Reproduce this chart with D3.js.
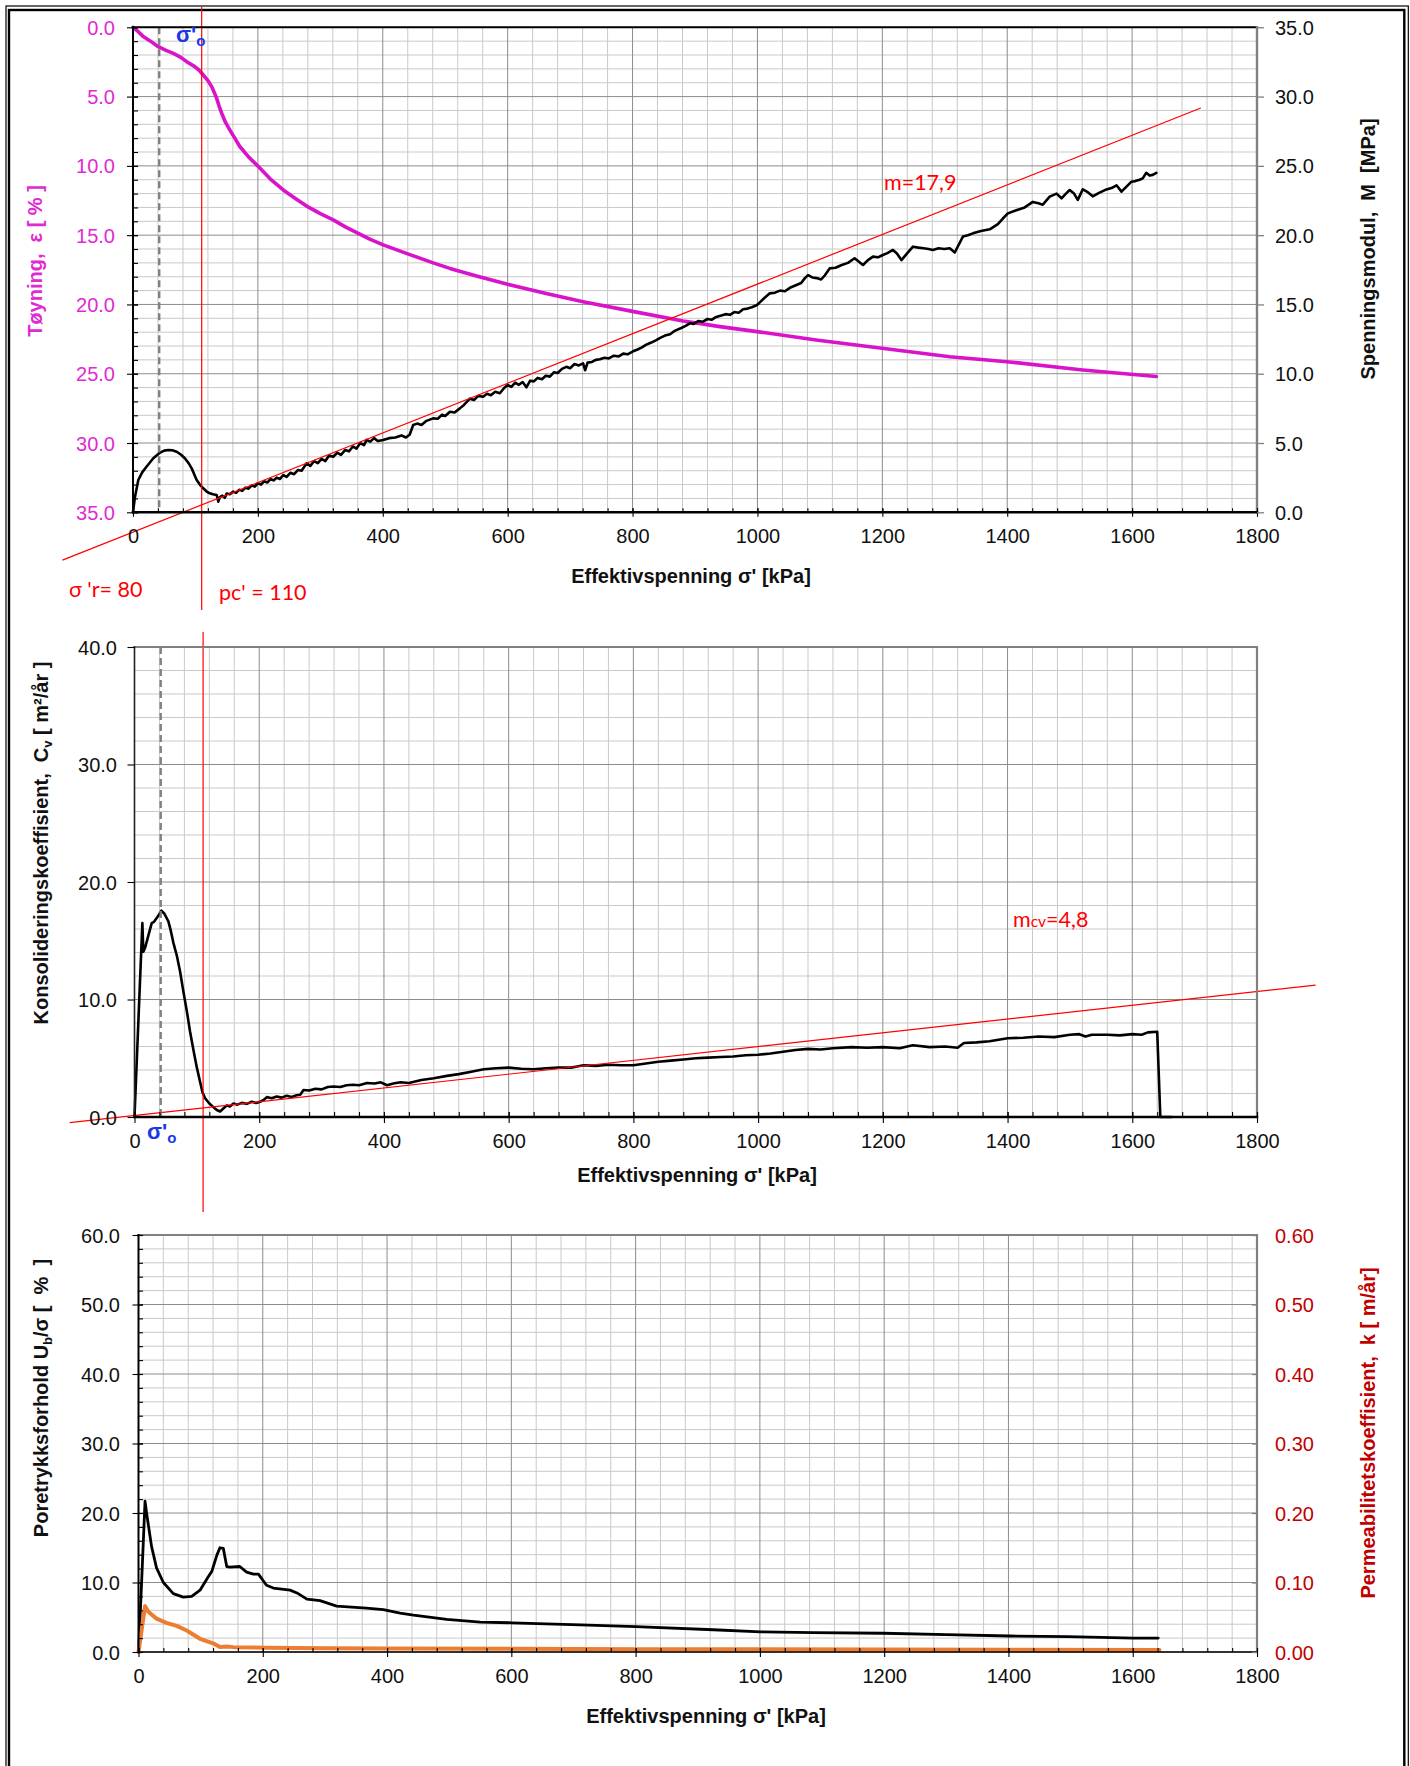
<!DOCTYPE html>
<html>
<head>
<meta charset="utf-8">
<script src="https://cdn.jsdelivr.net/npm/d3@7"></script>
<style>
  html, body { margin: 0; padding: 0; background: #fff; }
  svg { display: block; }
  text { white-space: pre; }
</style>
</head>
<body>
<svg id="chart" width="1410" height="1766"></svg>
<script>
// ---------- tick labels ----------
const xTicks = [0, 200, 400, 600, 800, 1000, 1200, 1400, 1600, 1800];
const strainTicks = [0, 5, 10, 15, 20, 25, 30, 35];
const modulusTicks = [0, 5, 10, 15, 20, 25, 30, 35];
const cvTicks = [0, 10, 20, 30, 40];
const poreTicks = [0, 10, 20, 30, 40, 50, 60];
const permTicks = [0, 0.1, 0.2, 0.3, 0.4, 0.5, 0.6];

// ---------- reference values ----------
const sigma0 = 42;          // in-situ effective stress σ'o [kPa]
const pcPrime = 110;        // preconsolidation stress pc' [kPa]
const sigmaR = 80;          // reference stress σ'r [kPa]
const modulusNumber = 17.9; // modulus number m
const cvNumber = 4.8;       // mcv
const modulusFitRange = [-113, 1710];
const cvTrend = [[-104, -0.48], [1894, 11.23]];

// ---------- series: [effective stress kPa, value] ----------
const strainCurve = [
  [0,0],[8,0.3],[16.5,0.67],[28,1.0],[40.5,1.4],[52,1.65],[64.5,1.88],[76,2.15],[86,2.48],[99,2.84],
  [106,3.1],[112.5,3.44],[120,3.85],[126,4.28],[131,4.8],[134,5.13],[138,5.7],[142,6.2],[148,6.85],
  [155,7.4],[163,8.0],[171,8.6],[185,9.35],[199.6,10.0],[220,10.95],[240.6,11.74],[260,12.35],
  [278,12.9],[300,13.45],[320.6,13.9],[340,14.4],[360.7,14.87],[380,15.3],[400.7,15.7],[440,16.35],
  [480.7,17.0],[507.5,17.4],[550,17.95],[599.8,18.55],[660,19.2],[720.8,19.8],[800,20.5],[881,21.2],
  [940,21.6],[999.4,21.96],[1094,22.56],[1199.5,23.16],[1308,23.77],[1399.6,24.13],[1521,24.73],[1638.8,25.2]
];

const modulusCurve = [
  [0,0],[3.2,1.13],[8.5,2.33],[15,2.9],[21.9,3.3],[32.5,3.9],[43,4.3],[50,4.45],[56.5,4.5],[63,4.48],
  [70,4.37],[77,4.15],[83,3.9],[89,3.55],[94,3.17],[98,2.75],[102,2.33],[107,2.0],[112.5,1.73],[118,1.5],
  [123,1.37],[128,1.3],[134,1.25],[136.6,0.77],[139,1.1],[143,1.2],[147,1.05],[150,1.35],[155,1.3],
  [160.6,1.49],[165,1.4],[170,1.62],[175,1.55],[180,1.78],[185,1.7],[190,1.95],[195,1.85],[199.6,2.09],
  [205,2.0],[210,2.25],[215,2.15],[220,2.4],[225,2.3],[230,2.5],[235,2.4],[240.6,2.69],[246,2.55],
  [252,2.85],[258,2.75],[264,3.05],[270,3.0],[278,3.54],[284,3.35],[290,3.7],[296,3.55],[302,3.85],
  [308,3.7],[314,4.1],[320.6,4.01],[327,4.3],[333,4.15],[340,4.5],[346,4.4],[352,4.75],[358,4.6],
  [364,5.0],[370,4.85],[374,5.22],[380,5.1],[386,5.35],[392,5.15],[400.7,5.22],[410,5.35],[420,5.4],
  [430,5.55],[437,5.4],[443,5.6],[448.7,6.3],[455,6.4],[462,6.3],[470,6.6],[480.7,6.78],[488,6.75],
  [495,7.05],[500,6.95],[507.5,7.26],[515,7.2],[523.4,7.5],[530,7.75],[539.5,8.2],[546,8.1],[553,8.4],
  [560.7,8.34],[567,8.55],[573,8.45],[580,8.7],[587.5,8.59],[594,8.95],[599.8,9.19],[606,9.05],
  [612,9.35],[618,9.2],[624,9.4],[630,9.02],[636,9.5],[642,9.45],[648,9.7],[655,9.6],[661,9.85],
  [667.5,9.79],[674,10.1],[680,10.05],[687,10.35],[694,10.5],[700,10.4],[707,10.7],[714,10.6],
  [720.8,10.75],[724,10.25],[728,10.8],[735,10.85],[741,11.0],[747.6,11.04],[755,11.15],[762,11.1],
  [770,11.3],[778,11.25],[785,11.45],[792,11.4],[800,11.6],[808,11.75],[815,11.9],[822,12.1],
  [830,12.25],[838,12.43],[845,12.6],[852,12.75],[860,12.85],[866,13.05],[870,13.15],[878,13.3],
  [885,13.45],[891.6,13.64],[898,13.6],[905,13.8],[912,13.75],[920,13.95],[927,13.9],[934,14.1],
  [942,14.2],[949,14.3],[956,14.25],[963,14.45],[970,14.4],[977,14.65],[984,14.7],[991,14.8],
  [999.4,14.96],[1005,15.2],[1012,15.5],[1019.8,15.8],[1028,15.85],[1036,16.0],[1044,15.95],
  [1052,16.2],[1062.5,16.4],[1070,16.55],[1076,16.9],[1081,17.12],[1088,16.95],[1095,16.9],
  [1102,16.8],[1108,17.1],[1115.6,17.6],[1125,17.65],[1135,17.85],[1145,18.0],[1155.6,18.33],
  [1162,18.1],[1169,17.85],[1177,18.2],[1185,18.45],[1193,18.4],[1200,18.55],[1208,18.7],[1217,18.93],
  [1223,18.7],[1230.6,18.2],[1238,18.6],[1249,19.17],[1258,19.1],[1266,19.05],[1274,19.0],[1281,18.93],
  [1290,19.05],[1299,19.0],[1308,19.05],[1316,18.75],[1329,19.9],[1337,20.0],[1345,20.13],[1358,20.3],
  [1372,20.42],[1385,20.8],[1393,21.2],[1401,21.57],[1414.5,21.8],[1428,22.0],[1441,22.4],[1450,22.3],
  [1457,22.2],[1468,22.78],[1479,23.0],[1487,22.66],[1494,23.0],[1500,23.26],[1507,23.0],[1513,22.55],
  [1521,23.3],[1529,23.1],[1537,22.8],[1547,23.05],[1559,23.3],[1567,23.4],[1575,23.6],[1583,23.14],
  [1591,23.5],[1599,23.86],[1605,23.9],[1612,24.0],[1617,24.1],[1622.7,24.5],[1628,24.3],[1633,24.35],
  [1638.8,24.5]
];

const cvCurve = [
  [0,0],[12.6,16.5],[14.2,14.06],[17,14.4],[22.2,15.43],[27.6,16.5],[31,16.6],[35.6,16.94],[39,17.2],
  [43.1,17.56],[48,17.3],[54.3,16.65],[58,15.9],[62.4,14.82],[68,13.7],[73.1,12.39],[78,10.8],
  [83.8,9.05],[89,7.3],[94.5,5.7],[100,4.2],[105.2,2.98],[109,2.1],[113.2,1.6],[120,1.15],[126.6,0.84],
  [132,0.6],[137.3,0.47],[142,0.7],[148,0.99],[153,0.9],[158.7,1.14],[165,1.05],[172,1.2],[180,1.12],
  [188,1.3],[195,1.2],[201.5,1.29],[207,1.45],[212.2,1.69],[220,1.6],[228,1.75],[236,1.65],[244,1.8],
  [252,1.7],[260,1.85],[265.8,1.9],[271,2.3],[280,2.25],[290,2.4],[300,2.35],[310,2.55],[319,2.6],
  [330,2.55],[340,2.7],[350,2.75],[360,2.7],[373,2.9],[385,2.85],[395,2.95],[405,2.7],[415,2.85],
  [426.5,2.96],[440,2.9],[460,3.15],[480,3.3],[501,3.5],[520,3.65],[540,3.85],[560,4.06],[580,4.15],
  [600,4.2],[620,4.1],[640,4.06],[660,4.15],[680,4.2],[700,4.2],[710,4.3],[720,4.4],[740,4.35],
  [760,4.45],[780,4.4],[800,4.4],[820,4.55],[840,4.7],[860,4.8],[880,4.9],[900,5.0],[920,5.05],
  [940,5.1],[960,5.15],[980,5.25],[1000,5.3],[1020,5.4],[1040,5.55],[1060,5.7],[1080,5.8],[1100,5.75],
  [1120,5.85],[1150,5.95],[1175,5.9],[1200,5.95],[1227,5.85],[1248,6.1],[1275,5.95],[1300,6.0],
  [1320,5.9],[1330,6.3],[1350,6.35],[1371,6.45],[1400,6.7],[1425,6.75],[1450,6.85],[1475,6.8],
  [1500,7.0],[1515,7.05],[1525,6.85],[1535,7.0],[1560,7.0],[1580,6.95],[1600,7.05],[1615,7.0],
  [1625,7.2],[1640,7.25],[1645,0],[1663,0]
];

const poreRatioCurve = [
  [0,0],[5,10],[10.5,21.7],[13,20],[15.8,18.3],[21,15.2],[29,12.1],[40,10.0],[56,8.4],[72,7.9],
  [85.6,8.0],[99,8.9],[112,10.8],[118,11.6],[126,13.9],[131,15.0],[136.5,14.9],[142,12.3],[147,12.2],
  [163,12.3],[174,11.5],[185,11.2],[193,11.2],[206,9.6],[217,9.2],[244,8.9],[255,8.5],[271,7.6],
  [292,7.4],[319,6.6],[367,6.3],[394,6.1],[421,5.6],[442.5,5.3],[496,4.7],[550,4.3],[601,4.2],
  [711,3.9],[800,3.65],[925,3.2],[1001,2.9],[1086,2.8],[1199,2.7],[1300,2.5],[1402,2.3],[1495,2.2],
  [1602,2.0],[1641,2.0]
];

const permeabilityCurve = [
  [0,0],[10.5,0.066],[15.8,0.058],[29,0.048],[45,0.042],[61.5,0.0375],[77.6,0.031],[99,0.019],
  [120,0.0125],[131,0.0072],[142,0.008],[153,0.007],[206,0.0062],[300,0.0055],[400,0.005],
  [600,0.0045],[800,0.004],[1000,0.0038],[1200,0.0035],[1400,0.0032],[1643,0.003]
];

// ---------- drawing ----------
const svg = d3.select("#chart");
const FONT = "'Liberation Sans', Arial, Helvetica, sans-serif";
const NOTE_FONT = "Lato, 'Open Sans', sans-serif";
const MAGENTA = "#d913c9";
const MAGENTA_TXT = "#e02ad2";
const DARKRED = "#c00000";
const RED = "#ff0000";
const BLUE = "#1a37e8";
const ORANGE = "#ed7d31";
const GRID_MINOR = "#c9c9c9";
const GRID_MAJOR = "#8c8c8c";
const BORDER_GRAY = "#808080";
const comma = v => String(v).replace(".", ",");

// outer double frame
svg.append("rect").attr("x", 6).attr("y", 6).attr("width", 1402.3).attr("height", 1820)
  .attr("fill", "none").attr("stroke", "#000").attr("stroke-width", 1.2);
svg.append("rect").attr("x", 9).attr("y", 10).attr("width", 1395.3).attr("height", 1820)
  .attr("fill", "none").attr("stroke", "#000").attr("stroke-width", 2.4);

// scales
const x1 = d3.scaleLinear().domain([0, 1800]).range([133, 1257]);
const yStrain = d3.scaleLinear().domain([0, 35]).range([27.3, 512.3]);
const yModulus = d3.scaleLinear().domain([0, 35]).range([512.3, 27.3]);

const x2 = d3.scaleLinear().domain([0, 1800]).range([134.5, 1257]);
const yCv = d3.scaleLinear().domain([0, 40]).range([1117, 647]);

const x3 = d3.scaleLinear().domain([0, 1800]).range([138.5, 1257]);
const yPore = d3.scaleLinear().domain([0, 60]).range([1652, 1235]);
const yPerm = d3.scaleLinear().domain([0, 0.6]).range([1652, 1235]);

const xMinor = d3.range(0, 1801, 40);

function drawGrid(x, y, minorStep, majorStep) {
  const g = svg.append("g");
  const [d0, d1] = y.domain();
  const yA = Math.min(...y.range()), yB = Math.max(...y.range());
  const [xA, xB] = x.range();
  const yVals = d3.range(d0, d1 + 1e-9, minorStep);
  const isMajorY = v => Math.abs(v / majorStep - Math.round(v / majorStep)) < 1e-6;
  const isMajorX = v => v % 200 === 0;
  xMinor.filter(v => !isMajorX(v)).forEach(v =>
    g.append("line").attr("x1", x(v)).attr("x2", x(v)).attr("y1", yA).attr("y2", yB)
      .attr("stroke", GRID_MINOR).attr("stroke-width", 1));
  yVals.filter(v => !isMajorY(v)).forEach(v =>
    g.append("line").attr("x1", xA).attr("x2", xB).attr("y1", y(v)).attr("y2", y(v))
      .attr("stroke", GRID_MINOR).attr("stroke-width", 1));
  xMinor.filter(isMajorX).forEach(v =>
    g.append("line").attr("x1", x(v)).attr("x2", x(v)).attr("y1", yA).attr("y2", yB)
      .attr("stroke", GRID_MAJOR).attr("stroke-width", 1));
  yVals.filter(isMajorY).forEach(v =>
    g.append("line").attr("x1", xA).attr("x2", xB).attr("y1", y(v)).attr("y2", y(v))
      .attr("stroke", GRID_MAJOR).attr("stroke-width", 1));
}

function bottomAxis(x, yPos, inner, outer) {
  const gm = svg.append("g").attr("transform", `translate(0,${yPos})`)
    .call(d3.axisBottom(x).tickValues(xMinor).tickSizeInner(-inner).tickSizeOuter(0).tickFormat(""));
  gm.select(".domain").remove();
  gm.selectAll("line").attr("stroke", "#000").attr("stroke-width", 1.1);
  const g = svg.append("g").attr("transform", `translate(0,${yPos})`)
    .call(d3.axisBottom(x).tickValues(xTicks).tickSizeInner(outer).tickSizeOuter(0).tickFormat(d3.format("d")));
  g.select(".domain").remove();
  g.attr("font-family", FONT).attr("font-size", 20);
  g.selectAll("line").attr("stroke", "#000").attr("stroke-width", 1.1).attr("y1", -inner);
  g.selectAll("text").attr("y", 31).attr("dy", null).attr("fill", "#111");
}

function leftAxis(y, xPos, ticks, fmt, color, minorTicks, outer, inner, gap) {
  if (minorTicks) {
    const gm = svg.append("g").attr("transform", `translate(${xPos},0)`)
      .call(d3.axisLeft(y).tickValues(minorTicks).tickSizeInner(-inner).tickSizeOuter(0).tickFormat(""));
    gm.select(".domain").remove();
    gm.selectAll("line").attr("stroke", "#000").attr("stroke-width", 1.1);
  }
  const g = svg.append("g").attr("transform", `translate(${xPos},0)`)
    .call(d3.axisLeft(y).tickValues(ticks).tickSizeInner(outer).tickSizeOuter(0).tickFormat(fmt));
  g.select(".domain").remove();
  g.attr("font-family", FONT).attr("font-size", 20);
  g.selectAll("line").attr("stroke", "#000").attr("stroke-width", 1.1).attr("x1", minorTicks ? inner : 0);
  g.selectAll("text").attr("x", -gap).attr("dy", "0.35em").attr("fill", color);
}

function rightAxis(y, xPos, ticks, fmt, color, size, gap) {
  const g = svg.append("g").attr("transform", `translate(${xPos},0)`)
    .call(d3.axisRight(y).tickValues(ticks).tickSizeInner(size).tickSizeOuter(0).tickFormat(fmt));
  g.select(".domain").remove();
  g.attr("font-family", FONT).attr("font-size", 20);
  g.selectAll("line").attr("stroke", BORDER_GRAY).attr("stroke-width", 1.3);
  g.selectAll("text").attr("x", gap).attr("dy", "0.35em").attr("fill", color);
}

function border(x1p, y1p, x2p, y2p, color, w) {
  svg.append("line").attr("x1", x1p).attr("y1", y1p).attr("x2", x2p).attr("y2", y2p)
    .attr("stroke", color).attr("stroke-width", w).attr("stroke-linecap", "square");
}

function curve(data, x, y, color, width) {
  svg.append("path").datum(data)
    .attr("d", d3.line().x(d => x(d[0])).y(d => y(d[1])))
    .attr("fill", "none").attr("stroke", color).attr("stroke-width", width)
    .attr("stroke-linejoin", "round").attr("stroke-linecap", "round");
}

function rotatedTitle(cx, cy, color, parts) {
  const t = svg.append("text")
    .attr("transform", `translate(${cx},${cy}) rotate(-90)`)
    .attr("text-anchor", "middle").attr("font-family", FONT).attr("font-weight", "bold")
    .attr("font-size", 20).attr("fill", color);
  parts.forEach(p => {
    const s = t.append("tspan").text(p.t);
    if (p.sub) s.attr("font-size", 13).attr("dy", 4);
    if (p.after) s.attr("dy", -4);
  });
  return t;
}

function xTitle(cx, base) {
  svg.append("text").attr("x", cx).attr("y", base).attr("text-anchor", "middle")
    .attr("font-family", FONT).attr("font-weight", "bold").attr("font-size", 20).attr("fill", "#111")
    .text("Effektivspenning σ' [kPa]");
}

function sigmaO(xp, yp) {
  const t = svg.append("text").attr("x", xp).attr("y", yp)
    .attr("font-family", FONT).attr("font-weight", "bold").attr("fill", BLUE);
  t.append("tspan").attr("font-size", 22).text("σ'");
  t.append("tspan").attr("font-size", 15).attr("dy", 4).text("o");
}

function note(xp, yp, txt) {
  svg.append("text").attr("x", xp).attr("y", yp).attr("font-family", NOTE_FONT)
    .attr("font-size", 21.5).attr("fill", RED).text(txt);
}

const f1 = d3.format(".1f"), f2 = d3.format(".2f");

// ===== panel 1: strain and constrained modulus =====
drawGrid(x1, yStrain, 1, 5);
curve(strainCurve, x1, yStrain, MAGENTA, 3.6);
curve(modulusCurve, x1, yModulus, "#000", 2.6);
// modulus trend line M = m (σ' - σ'r)
const fitM = s => modulusNumber * (s - sigmaR) / 1000;
svg.append("line")
  .attr("x1", x1(modulusFitRange[0])).attr("y1", yModulus(fitM(modulusFitRange[0])))
  .attr("x2", x1(modulusFitRange[1])).attr("y2", yModulus(fitM(modulusFitRange[1])))
  .attr("stroke", RED).attr("stroke-width", 1.2);
// σ'o marker
svg.append("line").attr("x1", x1(sigma0)).attr("x2", x1(sigma0))
  .attr("y1", yStrain(0)).attr("y2", yStrain(35))
  .attr("stroke", BORDER_GRAY).attr("stroke-width", 2.4).attr("stroke-dasharray", "7,4");
// pc' marker
svg.append("line").attr("x1", x1(pcPrime)).attr("x2", x1(pcPrime)).attr("y1", 7).attr("y2", 610)
  .attr("stroke", RED).attr("stroke-width", 1.2);

border(133, 27.3, 1257, 27.3, "#000", 2);
border(1257, 27.3, 1257, 512.3, BORDER_GRAY, 2.4);
border(133, 27.3, 133, 512.3, "#000", 2);
border(133, 512.3, 1257, 512.3, "#000", 2.4);
bottomAxis(x1, 512.3, 4, 4.5);
leftAxis(yStrain, 133, strainTicks, f1, MAGENTA_TXT, d3.range(0, 35.01, 1), 6, 5, 18);
rightAxis(yModulus, 1257, modulusTicks, f1, "#111", 7, 18);

rotatedTitle(42, 261, MAGENTA_TXT, [{t: "Tøyning,  ε [ % ]"}]);
rotatedTitle(1375, 249, "#111", [{t: "Spenningsmodul,  M  [MPa]"}]);
xTitle(691, 583);
sigmaO(176, 42);
note(884, 190, "m=" + comma(modulusNumber));
note(69, 597, "σ 'r= " + sigmaR);
note(219, 600, "pc' = " + pcPrime);

// ===== panel 2: coefficient of consolidation =====
drawGrid(x2, yCv, 2, 10);
curve(cvCurve, x2, yCv, "#000", 2.6);
svg.append("line")
  .attr("x1", x2(cvTrend[0][0])).attr("y1", yCv(cvTrend[0][1]))
  .attr("x2", x2(cvTrend[1][0])).attr("y2", yCv(cvTrend[1][1]))
  .attr("stroke", RED).attr("stroke-width", 1.2);
svg.append("line").attr("x1", x2(sigma0)).attr("x2", x2(sigma0))
  .attr("y1", yCv(40)).attr("y2", yCv(0))
  .attr("stroke", BORDER_GRAY).attr("stroke-width", 2.4).attr("stroke-dasharray", "7,4");
svg.append("line").attr("x1", x2(pcPrime)).attr("x2", x2(pcPrime)).attr("y1", 632).attr("y2", 1212)
  .attr("stroke", RED).attr("stroke-width", 1.2);

border(134.5, 647, 1257, 647, BORDER_GRAY, 2);
border(1257, 647, 1257, 1117, BORDER_GRAY, 2.2);
border(134.5, 647, 134.5, 1117, "#222", 1.6);
border(134.5, 1117, 1257, 1117, "#000", 2.4);
bottomAxis(x2, 1117, 5, 6);
leftAxis(yCv, 134.5, cvTicks, f1, "#111", null, 7, 0, 17.5);

rotatedTitle(48, 843, "#111", [
  {t: "Konsolideringskoeffisient,  C"}, {t: "v", sub: true}, {t: " [ m²/år ]", after: true}
]);
xTitle(697, 1182);
sigmaO(147, 1139);
{
  const t = svg.append("text").attr("x", 1013).attr("y", 927)
    .attr("font-family", NOTE_FONT).attr("fill", RED);
  t.append("tspan").attr("font-size", 21.5).text("m");
  t.append("tspan").attr("font-size", 15.5).text("cv");
  t.append("tspan").attr("font-size", 21.5).text("=" + comma(cvNumber));
}

// ===== panel 3: pore pressure ratio and permeability =====
drawGrid(x3, yPore, 2, 10);
curve(poreRatioCurve, x3, yPore, "#000", 2.8);
curve(permeabilityCurve, x3, yPerm, ORANGE, 4);

border(138.5, 1235, 1257, 1235, BORDER_GRAY, 2);
border(1257, 1235, 1257, 1652, BORDER_GRAY, 2.2);
border(138.5, 1235, 138.5, 1652, "#000", 2);
border(138.5, 1652, 1257, 1652, "#000", 1.6);
bottomAxis(x3, 1652, 4, 5);
leftAxis(yPore, 138.5, poreTicks, f1, "#111", d3.range(0, 60.01, 2), 6, 4.5, 18.5);
rightAxis(yPerm, 1257, permTicks, f2, DARKRED, -5, 18);

rotatedTitle(47.5, 1398, "#111", [
  {t: "Poretrykksforhold U"}, {t: "b", sub: true}, {t: "/σ [  %  ]", after: true}
]);
rotatedTitle(1375, 1433, DARKRED, [{t: "Permeabilitetskoeffisient,  k [ m/år]"}]);
xTitle(706, 1723);
</script>
</body>
</html>
